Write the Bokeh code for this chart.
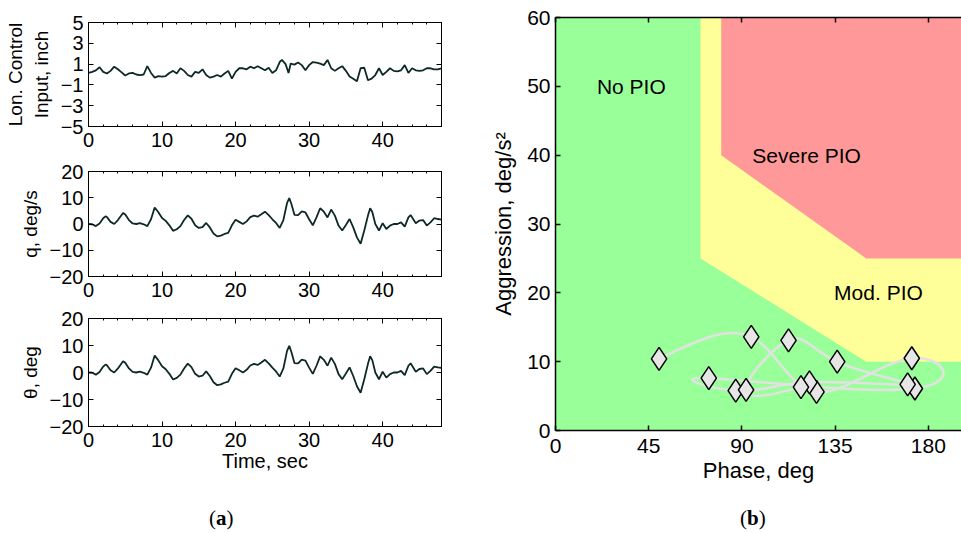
import numpy as np
from bokeh.plotting import figure
from bokeh.models import FixedTicker, LinearAxis, Range1d, Div, CustomJSTickFormatter
from bokeh.layouts import row, column
from bokeh.embed import file_html
from bokeh.resources import INLINE
from bokeh.core.properties import value

# ---------------- data: (a) time histories ----------------
ctrl_t = [0, 0.5, 1, 1.5, 2, 2.5, 3, 3.5, 4, 4.5, 5, 5.5, 6, 6.5, 7, 7.5, 8, 8.5, 9, 9.5,
          10, 10.5, 11, 11.5, 12, 12.5, 13, 13.5, 14, 14.5, 15, 15.5, 16, 16.5, 17, 17.5,
          18, 18.5, 19, 19.5, 20, 20.5, 21, 21.5, 22, 22.5, 23, 23.5, 24, 24.5, 25, 25.5,
          26, 26.3, 26.8, 27.2, 27.5, 28, 28.5, 29, 29.5, 30, 30.5, 31, 31.5, 32, 32.5,
          33, 33.5, 34, 34.5, 35, 35.5, 36, 36.5, 37, 37.5, 38, 38.5, 39, 39.5, 40, 40.5,
          41, 41.5, 42, 42.5, 43, 43.5, 44, 44.5, 45, 45.5, 46, 46.5, 47, 47.5, 48]
ctrl_inch = [0.15, 0.25, 0.4, 0.7, 0.25, 0.1, 0.35, 0.75, 0.5, 0.2, -0.1, 0.1, 0.15, 0.0,
             -0.05, 0.0, 0.8, 0.15, -0.3, -0.15, -0.2, -0.15, 0.15, 0.35, 0.1, 0.6, 0.35,
             -0.05, -0.2, 0.25, 0.15, 0.5, -0.05, -0.3, -0.2, -0.05, -0.2, 0.1, 0.35, -0.4,
             0.25, 0.6, 0.6, 0.5, 0.75, 0.6, 0.8, 0.6, 0.4, 0.65, 0.15, 0.4,
             1.2, 1.4, 1.0, 0.15, 1.05, 0.95, 1.15, 0.9, 0.4, 0.9, 1.2, 1.15, 1.05, 0.9, 1.4,
             0.6, 0.35, 0.6, 0.8, 0.35, -0.2, -0.4, -0.65, 0.6, 0.65, -0.55, -0.4, -0.05, 0.6,
             -0.05, 0.25, 0.6, 0.35, 0.3, 0.4, 0.9, 0.15, 0.6, 0.4, 0.35, 0.4, 0.6, 0.6, 0.5,
             0.5, 0.6]

q_t = [0, 0.5, 1, 1.5, 2, 2.3, 2.5, 3, 3.5, 4, 4.7, 5, 5.5, 6, 6.5, 7, 7.5, 8, 8.5, 9, 9.5,
       10, 10.5, 11, 11.5, 12, 12.5, 13, 13.5, 14, 14.5, 15, 15.5, 16, 16.5, 17, 17.5, 18,
       18.5, 19, 19.5, 20, 20.5, 21, 21.5, 22, 22.5, 23, 23.5, 24, 24.5, 25, 25.5, 26, 26.5,
       27, 27.3, 27.6, 28, 28.5, 29, 29.5, 30, 30.5, 31, 31.5, 32, 32.5, 33, 33.5, 34, 34.5,
       35, 35.5, 36, 36.5, 37, 37.5, 38, 38.3, 38.6, 39, 39.5, 40, 40.5, 41, 41.5, 42, 42.5,
       43, 43.5, 43.8, 44.5, 45, 45.5, 46, 46.5, 47, 47.5, 48]
q_deg_s = [0, -0.1, -0.8, 0.2, 2.2, 2.9, 2.7, 0.8, 0.0, 1.5, 4.2, 3.6, 1.5, 0.2, 0.0, 0.3,
           -0.1, -0.8, 1.8, 6.3, 4.5, 2.3, 1.2, -0.5, -2.6, -2.0, -0.8, 1.5, 3.3, 2.0, -0.5,
           -1.5, -1.2, 0.4, -1.3, -3.6, -4.7, -4.4, -3.8, -3.4, -0.5, 1.6, 0.8, 0.0, 1.0, 2.6,
           3.2, 2.8, 3.7, 4.7, 3.4, 1.8, 0.4, -1.5, 1.5, 8.0, 9.9, 7.5, 3.5, 3.4, 4.8, 4.4,
           1.8, -0.5, 2.5, 6.0, 4.7, 2.5, 5.5, 3.2, -0.6, -2.5, -0.4, 1.9, -1.3, -5.1, -7.5,
           -2.5, 3.2, 6.0, 4.5, 0.0, -2.5, 0.3, -1.9, -0.6, 0.0, 0.0, 0.6, -1.0, 2.5, 3.4,
           0.3, 1.3, 1.5, -0.6, 0.6, 2.2, 1.9, 1.7]
# the theta trace in the source figure reads identically to q
theta_t = list(q_t)
theta_deg = list(q_deg_s)

time_ticks = [0, 10, 20, 30, 40]
time_minor = [2, 4, 6, 8, 12, 14, 16, 18, 22, 24, 26, 28, 32, 34, 36, 38, 42, 44, 46, 48]
ctrl_ticks = [-5, -3, -1, 1, 3, 5]
rate_ticks = [-20, -10, 0, 10, 20]

# ---------------- data: (b) PIO chart ----------------
phase_ticks = [0, 45, 90, 135, 180]
aggr_ticks = [0, 10, 20, 30, 40, 50, 60]
yellow_phase = [70, 70, 150, 260, 260]
yellow_aggr = [60, 25, 10, 10, 60]
red_phase = [80, 80, 150, 260, 260]
red_aggr = [60, 40, 25, 25, 60]
region_names = ["No PIO", "Severe PIO", "Mod. PIO"]
region_phase = [20, 95, 134.5]
region_aggr = [50, 40, 20]
# points in trajectory order
pt_phase = [50, 94.5, 126, 172, 173.5, 74, 87, 122.6, 170, 136, 112.5, 92, 118.5]
pt_aggr = [10.4, 13.6, 5.6, 10.5, 6.1, 7.6, 5.8, 7.0, 6.7, 10.0, 13.1, 5.9, 6.3]

FONT = "Liberation Sans"
TRACE = "#0e2828"
minus_fmt = "return (tick < 0 ? '\u2212' : '') + Math.abs(tick).toString();"


def style_axis(ax, size="20px"):
    ax.major_label_text_font = FONT
    ax.major_label_text_font_size = size
    ax.major_label_text_color = "black"
    ax.axis_label_text_font = FONT
    ax.axis_label_text_font_style = "normal"
    ax.axis_label_text_color = "black"
    ax.axis_line_color = "black"
    ax.major_tick_line_color = "black"
    ax.minor_tick_line_color = "black"
    ax.major_tick_in = 5
    ax.major_tick_out = 0
    ax.minor_tick_in = 2
    ax.minor_tick_out = 0


def blank_axis(ticker, minor=True):
    ax = LinearAxis(ticker=ticker)
    style_axis(ax)
    ax.major_label_text_color = None
    ax.major_label_text_font_size = "1px"
    ax.major_label_standoff = 0
    if not minor:
        ax.minor_tick_line_color = None
    return ax


def ts_fig(t, y, yr, yticks, ylabel, h, top, bottom, xlabel=None):
    p = figure(width=456, height=h, x_range=Range1d(0, 48), y_range=Range1d(*yr),
               output_backend="svg", toolbar_location=None,
               min_border_left=88, min_border_right=15, min_border_top=top,
               min_border_bottom=bottom)
    p.line(t, y, color=TRACE, line_width=1.8)
    p.grid.visible = False
    p.outline_line_color = "black"
    p.outline_line_width = 1
    xt = FixedTicker(ticks=time_ticks, minor_ticks=time_minor)
    yt = FixedTicker(ticks=yticks, minor_ticks=[])
    xa = p.xaxis[0]
    ya = p.yaxis[0]
    xa.ticker = xt
    ya.ticker = yt
    ya.formatter = CustomJSTickFormatter(code=minus_fmt)
    style_axis(xa)
    style_axis(ya)
    xa.major_label_standoff = 6
    ya.major_label_standoff = 5
    ya.axis_label = ylabel
    ya.axis_label_text_font_size = "19px"
    ya.axis_label_standoff = 6
    if xlabel:
        xa.axis_label = xlabel
        xa.axis_label_text_font_size = "20px"
        xa.axis_label_standoff = 0
    p.add_layout(blank_axis(xt), "above")
    p.add_layout(blank_axis(yt), "right")
    return p


f1 = ts_fig(ctrl_t, ctrl_inch, (-5, 5), ctrl_ticks, "Lon. Control\nInput, inch", 156, 22, 30)
f2 = ts_fig(q_t, q_deg_s, (-20, 20), rate_ticks, "q, deg/s", 147, 15, 27)
f3 = ts_fig(theta_t, theta_deg, (-20, 20), rate_ticks, "\u03b8, deg", 177, 15, 54, "Time, sec")

# ---------------- (b) ----------------
p4 = figure(width=505, height=490, x_range=Range1d(0, 196), y_range=Range1d(0, 60),
            output_backend="svg", toolbar_location=None,
            min_border_left=99, min_border_right=0, min_border_top=17, min_border_bottom=60,
            background_fill_color="#99ff99")
p4.grid.visible = False
p4.outline_line_color = None
p4.patch(yellow_phase, yellow_aggr, fill_color="#ffff99", line_color=None)
p4.patch(red_phase, red_aggr, fill_color="#ff9999", line_color=None)
p4.text(x=region_phase, y=region_aggr, text=region_names, text_font=value(FONT),
        text_font_size="21px", text_baseline="middle", text_align="left", text_color="black")

P = np.column_stack([pt_phase, pt_aggr]).astype(float)
n = len(P)
A = np.zeros((n, n))
B = np.zeros((n, 2))
A[0, 0], A[0, 1] = 2, 1
B[0] = 3 * (P[1] - P[0])
for i in range(1, n - 1):
    A[i, i - 1], A[i, i], A[i, i + 1] = 1, 4, 1
    B[i] = 3 * (P[i + 1] - P[i - 1])
A[-1, -2], A[-1, -1] = 1, 2
B[-1] = 3 * (P[-1] - P[-2])
D = np.linalg.solve(A, B)
c0 = P[:-1] + D[:-1] / 3
c1 = P[1:] - D[1:] / 3
p4.bezier(x0=P[:-1, 0], y0=P[:-1, 1], x1=P[1:, 0], y1=P[1:, 1],
          cx0=c0[:, 0], cy0=c0[:, 1], cx1=c1[:, 0], cy1=c1[:, 1],
          line_color="#e2e2e2", line_width=2.5)
p4.scatter(pt_phase, pt_aggr, marker="diamond", size=23, fill_color="#e6e6e6",
           line_color="black", line_width=1.5)

xt4 = FixedTicker(ticks=phase_ticks, minor_ticks=[])
yt4 = FixedTicker(ticks=aggr_ticks, minor_ticks=[])
xa4 = p4.xaxis[0]
ya4 = p4.yaxis[0]
xa4.ticker = xt4
ya4.ticker = yt4
for ax in (xa4, ya4):
    style_axis(ax, "21px")
    ax.axis_line_width = 1.5
    ax.major_tick_line_width = 1.5
    ax.major_label_standoff = 5
    ax.axis_label_text_font_size = "22px"
    ax.axis_label_standoff = 8
xa4.axis_label = "Phase, deg"
ya4.axis_label = "Aggression, deg/s\u00b2"
xa4.major_label_standoff = 8
xa4.axis_label_standoff = 2
top4 = blank_axis(xt4, minor=False)
top4.axis_line_width = 1.5
top4.major_tick_line_width = 1.5
p4.add_layout(top4, "above")

serif = "font-family:'Liberation Serif','DejaVu Serif',serif;font-size:21px;color:black;"
divA = Div(text=f"<div style=\"{serif}padding-left:209px;padding-top:23px;\">(<b>a</b>)</div>",
           width=456, height=53, margin=(0, 0, 0, 0))
divB = Div(text=f"<div style=\"{serif}padding-left:284px;padding-top:13px;\">(<b>b</b>)</div>",
           width=505, height=43, margin=(0, 0, 0, 0))

layout = row(column(f1, f2, f3, divA), column(p4, divB))
open("out.html", "w").write(file_html(layout, INLINE))
